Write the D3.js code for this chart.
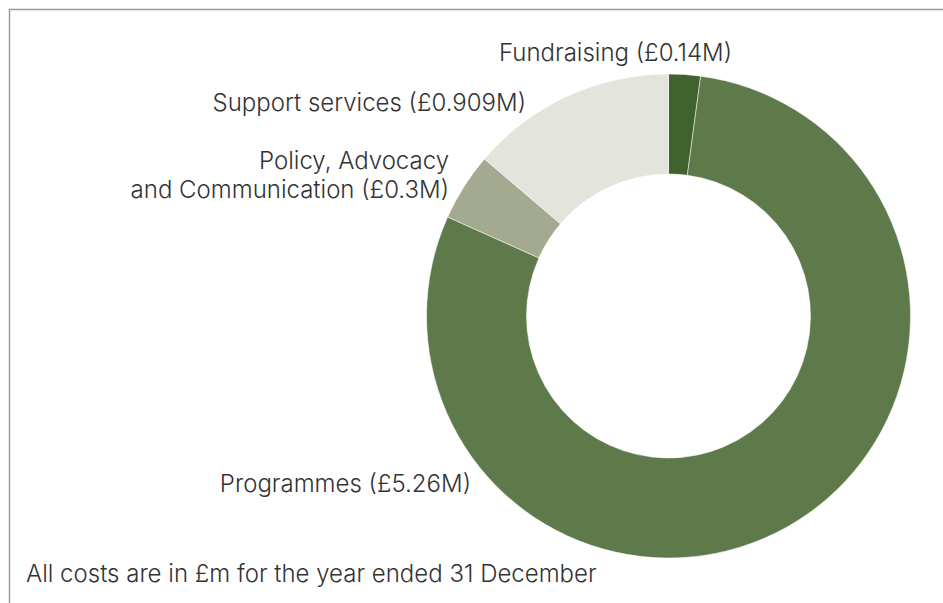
<!DOCTYPE html>
<html>
<head>
<meta charset="utf-8">
<script src="https://cdn.jsdelivr.net/npm/d3@7"></script>
<style>
  html, body { margin: 0; padding: 0; background: #fff; }
  svg { display: block; }
  text { font-family: Inter, "Noto Sans", sans-serif; fill: #333; font-weight: 300; }
</style>
</head>
<body>
<svg id="chart" width="943" height="603"></svg>
<script>
// Cost categories, clockwise from 12 o'clock
const categories = ["Fundraising", "Programmes", "Policy, Advocacy and Communication", "Support services"];
const values = [0.14, 5.26, 0.3, 0.909];
const colors = ["#3f622f", "#5e7a4a", "#a3aa90", "#e3e4dc"];
const labelLines = [
  ["Fundraising (£0.14M)"],
  ["Programmes (£5.26M)"],
  ["Policy, Advocacy", "and Communication (£0.3M)"],
  ["Support services (£0.909M)"]
];
const footnote = "All costs are in £m for the year ended 31 December";

const svg = d3.select("#chart");
const W = 943, H = 603;

// frame
svg.append("path")
  .attr("d", `M9.5,${H} V9.5 H${W}`)
  .attr("fill", "none")
  .attr("stroke", "#9a9a9a")
  .attr("stroke-width", 1.5);

const cx = 668.5, cy = 316, rOuter = 242, rInner = 142;

const pie = d3.pie().sort(null).value(d => d)(values);
const arc = d3.arc().innerRadius(rInner).outerRadius(rOuter);

const g = svg.append("g").attr("transform", `translate(${cx},${cy})`);
g.selectAll("path.slice")
  .data(pie)
  .join("path")
  .attr("class", "slice")
  .attr("d", arc)
  .attr("fill", (d, i) => colors[i])
  .attr("stroke", "#fff")
  .attr("stroke-width", 0.5);

// label placement: anchor and position per slice
const labelPos = [
  { x: 499, y: 61, anchor: "start" },
  { x: 471, y: 492, anchor: "end" },
  { x: 449, y: 169, anchor: "end" },
  { x: 526, y: 111, anchor: "end" }
];
const fontSize = 24;
const lineH = 29;
labelLines.forEach((lines, i) => {
  const p = labelPos[i];
  const t = svg.append("text")
    .attr("x", p.x).attr("y", p.y)
    .attr("text-anchor", p.anchor)
    .style("font-size", fontSize + "px");
  lines.forEach((ln, j) => {
    t.append("tspan").attr("x", p.x).attr("dy", j === 0 ? 0 : lineH).text(ln);
  });
});

svg.append("text")
  .attr("x", 26).attr("y", 582)
  .style("font-size", fontSize + "px")
  .text(footnote);
</script>
</body>
</html>
